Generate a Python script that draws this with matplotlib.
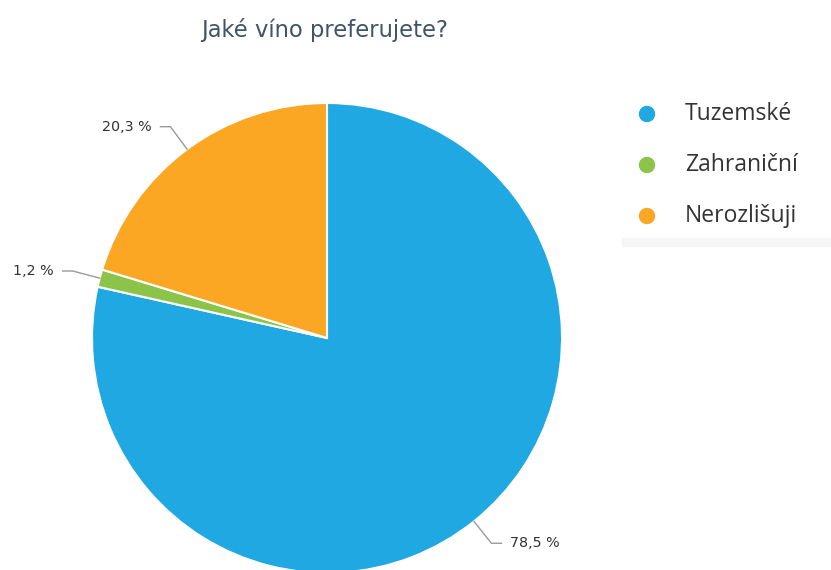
import numpy as np
import matplotlib.pyplot as plt
from matplotlib.patches import Rectangle, Circle

labels = ["Tuzemské", "Zahraniční", "Nerozlišuji"]
values = [78.5, 1.2, 20.3]
value_labels = ["78,5 %", "1,2 %", "20,3 %"]
colors = ["#1fa8e1", "#8cc449", "#fba724"]

W, H = 831, 570
fig = plt.figure(figsize=(W / 100, H / 100), dpi=100)
ax = fig.add_axes([0, 0, 1, 1])

# axes in pixel units (y up), so the pie can be placed like the reference
cx, cy, r = 327, H - 338, 235
wedges, _ = ax.pie(values, colors=colors, startangle=90, counterclock=False,
                   center=(cx, cy), radius=r, frame=True,
                   wedgeprops=dict(edgecolor="white", linewidth=1.5))
ax.set_xlim(0, W)
ax.set_ylim(0, H)
ax.set_aspect("equal")
ax.axis("off")

# connector lines + value labels
for w, txt in zip(wedges, value_labels):
    ang = np.deg2rad((w.theta1 + w.theta2) / 2)
    x0, y0 = cx + r * np.cos(ang), cy + r * np.sin(ang)
    x1, y1 = cx + (r + 28) * np.cos(ang), cy + (r + 28) * np.sin(ang)
    side = 1 if np.cos(ang) > 0 else -1
    x2 = x1 + side * 10
    ax.plot([x0, x1, x2], [y0, y1, y1], color="#999999", lw=1, solid_joinstyle="round")
    ax.text(x2 + side * 9, y1, txt, ha="left" if side > 0 else "right",
            va="center", fontsize=10.3, color="#333333")

ax.text(325, H - 30, "Jaké víno preferujete?", ha="center", va="center",
        fontsize=16.3, color="#3e5468")

# legend
for i, (lab, col) in enumerate(zip(labels, colors)):
    y = H - (114 + 51 * i)
    ax.add_patch(Circle((647, y), 7.5, color=col))
    ax.text(685, y, lab, ha="left", va="center", fontsize=16.5,
            color="#333333", family="Open Sans")

ax.add_patch(Rectangle((622, H - 246), W - 622, 8, color="#f6f6f6"))

fig.savefig("out.png", dpi=100)
